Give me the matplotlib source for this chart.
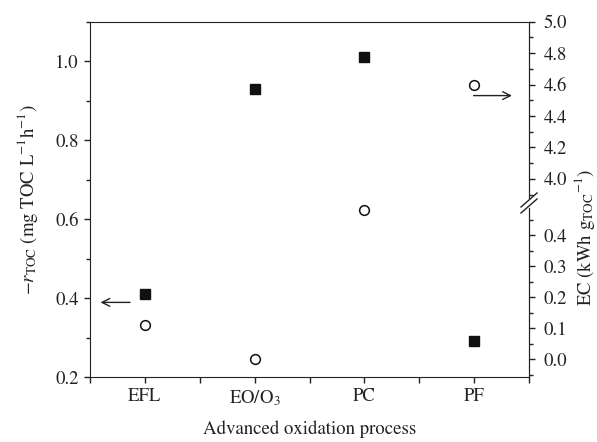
import numpy as np
import matplotlib
matplotlib.use('Agg')
import matplotlib.pyplot as plt
from matplotlib.ticker import MultipleLocator

plt.rcParams['font.family'] = 'STIXGeneral'
plt.rcParams['mathtext.fontset'] = 'stix'
plt.rcParams['font.size'] = 13.5

# data
processes = ['EFL', 'EO/O$_3$', 'PC', 'PF']
r_toc = [0.41, 0.93, 1.01, 0.29]     # mg TOC L-1 h-1 (left axis)
ec = [0.11, 0.0, 0.48, 4.6]          # kWh gTOC-1 (right axis, broken)

ink = '#222222'
W, H = 597, 442
fig = plt.figure(figsize=(W / 100, H / 100), dpi=100)

# axes box in pixels
x0, x1 = 90, 529
y_top, y_bot, y_brk = 21.7, 377, 205
def fx(px):
    return px / W
def fy(py):
    return 1 - py / H

ax = fig.add_axes([fx(x0), fy(y_bot), fx(x1) - fx(x0), fy(y_top) - fy(y_bot)])
x = np.arange(len(processes))
ax.plot(x, r_toc, 's', color='#111111', ms=7)
ax.set_xlim(-0.5, 3.5)
ax.set_ylim(0.2, 1.1)
ax.set_xticks(x)
ax.set_xticklabels(processes)
ax.xaxis.set_minor_locator(MultipleLocator(0.5))
ax.yaxis.set_major_locator(MultipleLocator(0.2))
ax.yaxis.set_minor_locator(MultipleLocator(0.1))
ax.yaxis.set_major_formatter(matplotlib.ticker.FormatStrFormatter('%.1f'))
ax.tick_params(which='both', direction='out', color=ink, labelcolor=ink, right=False)
ax.tick_params(which='major', length=4.5, width=1)
ax.tick_params(which='minor', length=3, width=1)
ax.tick_params(axis='x', which='minor', length=4.5)
for s in ax.spines.values():
    s.set_color(ink)
ax.set_xlabel('Advanced oxidation process', color=ink, labelpad=9)
ax.set_ylabel(r'$-r_{\mathrm{TOC}}$ (mg TOC L$^{-1}$h$^{-1}$)', color=ink, labelpad=11)

# right axis: two stacked segments with a break
def seg_axes(p_top, p_bot, lo, hi, major, minor):
    a = fig.add_axes([fx(x0), fy(p_bot), fx(x1) - fx(x0), fy(p_top) - fy(p_bot)])
    a.set_facecolor('none')
    for k in ['left', 'top', 'bottom']:
        a.spines[k].set_visible(False)
    a.spines['right'].set_color(ink)
    a.set_xlim(-0.5, 3.5)
    a.set_ylim(lo, hi)
    a.set_xticks([])
    a.yaxis.tick_right()
    a.yaxis.set_major_locator(MultipleLocator(major))
    a.yaxis.set_minor_locator(MultipleLocator(minor))
    a.yaxis.set_major_formatter(matplotlib.ticker.FormatStrFormatter('%.1f'))
    a.tick_params(which='both', direction='out', color=ink, labelcolor=ink, pad=6)
    a.tick_params(which='major', length=4.5, width=1)
    a.tick_params(which='minor', length=3, width=1)
    return a

ax_hi = seg_axes(y_top, y_brk, 3.834, 5.0, 0.2, 0.1)
ax_lo = seg_axes(y_brk, y_bot, -0.057, 0.497, 0.1, 0.05)
ax_hi.set_yticks([4.0, 4.2, 4.4, 4.6, 4.8, 5.0])

ec = np.array(ec)
low = ec < 1
ax_lo.plot(x[low], ec[low], 'o', mfc='white', mec='#111111', mew=1.1, ms=7, clip_on=False)
ax_hi.plot(x[~low], ec[~low], 'o', mfc='white', mec='#111111', mew=1.1, ms=7, clip_on=False)

# break marks on the right spine
bx, by = fx(x1), fy(y_brk - 2)
dx, dy = 8 / W, 7 / H
fig.add_artist(plt.Line2D([bx, bx], [by - 3 / H, by + 3 / H], color='white', lw=2))
for off in (-3 / H, 3 / H):
    fig.add_artist(plt.Line2D([bx - dx, bx + dx], [by - dy + off, by + dy + off], color=ink, lw=1))

# arrows pointing to the axes
ax.annotate('', xy=(-0.43, 0.389), xytext=(-0.11, 0.389),
            arrowprops=dict(arrowstyle='->', color=ink, lw=1, mutation_scale=14))
ax_hi.annotate('', xy=(3.37, 4.53), xytext=(2.97, 4.53),
               arrowprops=dict(arrowstyle='->', color=ink, lw=1, mutation_scale=14))

fig.text(fx(572), fy(237), r'EC (kWh g$_{\mathrm{TOC}}$$^{-1}$)', rotation=90,
         ha='left', va='center', color=ink)

fig.savefig('out.png', dpi=100)
